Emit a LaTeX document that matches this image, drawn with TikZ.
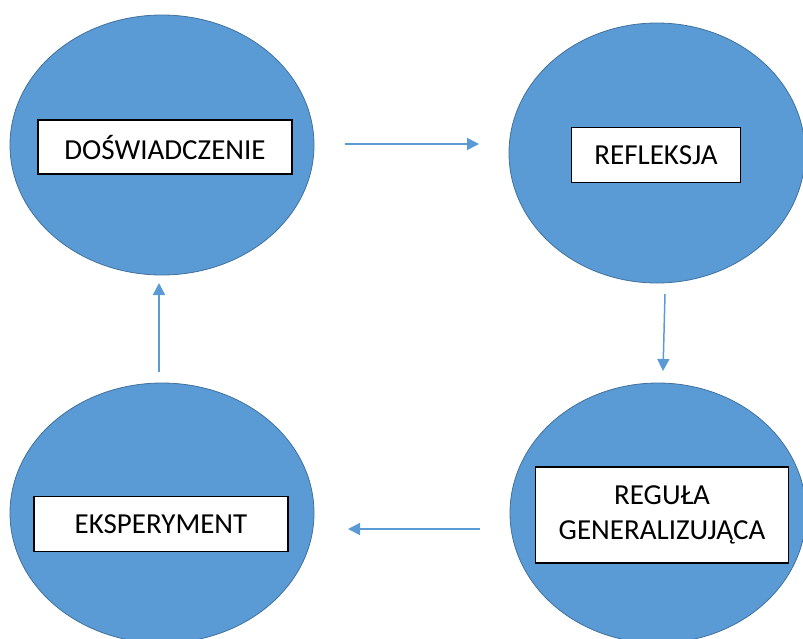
\documentclass[tikz,border=0pt]{standalone}
\usepackage{fontspec}
\setmainfont{Carlito}
\usetikzlibrary{shapes.geometric,arrows.meta}
\definecolor{cfill}{HTML}{5B9BD5}
\definecolor{cedge}{HTML}{41719C}
\tikzset{
  blob/.style={ellipse, fill=cfill, draw=cedge, line width=0.8pt, minimum width=#1, minimum height=260pt, inner sep=0pt},
  label box/.style={draw=black, line width=1.2pt, fill=white, font=\fontsize{29}{35}\selectfont, align=center, inner sep=0pt},
  flow/.style={draw=cfill, line width=1.5pt, -{Triangle[length=12pt,width=12pt]}}
}
\begin{document}
\begin{tikzpicture}[x=1pt,y=-1pt]
\useasboundingbox (0,0) rectangle (803,638);
\node[blob=304pt] (e1) at (162,145) {};
\node[blob=296pt] (e2) at (657,153) {};
\node[blob=296pt] (e3) at (658,513) {};
\node[blob=304pt] (e4) at (162,513) {};
\node[label box, minimum width=254pt, minimum height=54pt] (b1) at (165,147) {DOŚWIADCZENIE};
\node[label box, minimum width=169pt, minimum height=55pt] (b2) at (656,155) {REFLEKSJA};
\node[label box, minimum width=253pt, minimum height=96pt] (b3) at (662,515) {REGUŁA\\[0pt]GENERALIZUJĄCA};
\node[label box, minimum width=254pt, minimum height=55pt] (b4) at (161,524) {EKSPERYMENT};
\coordinate (a1s) at (345,144);
\coordinate (a1e) at (479,144);
\coordinate (a2s) at (665,294);
\coordinate (a2e) at (663,371);
\coordinate (a3s) at (480,529);
\coordinate (a3e) at (348,529);
\coordinate (a4s) at (159,372);
\coordinate (a4e) at (159,283);
\draw[flow] (a1s) -- (a1e);
\draw[flow] (a2s) -- (a2e);
\draw[flow] (a3s) -- (a3e);
\draw[flow] (a4s) -- (a4e);
\end{tikzpicture}
\end{document}
